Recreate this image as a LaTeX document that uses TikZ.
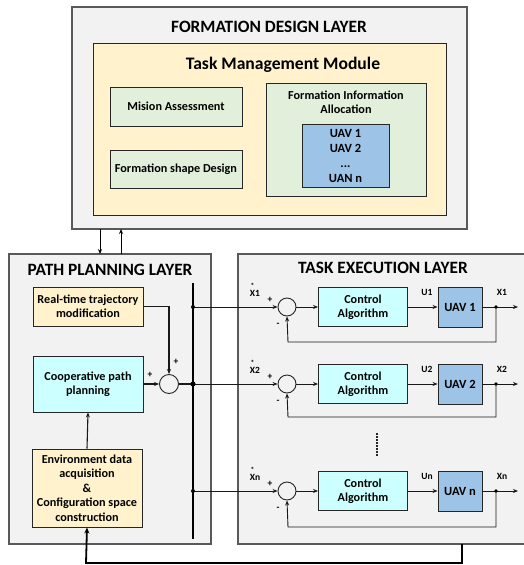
\documentclass[tikz,border=0pt]{standalone}
\usepackage{fontspec}
\setmainfont{Carlito}
\usetikzlibrary{arrows.meta}
\definecolor{layerfill}{HTML}{F2F2F2}
\definecolor{layerline}{HTML}{595959}
\definecolor{boxline}{HTML}{262626}
\definecolor{yellowfill}{HTML}{FFF2CC}
\definecolor{greenfill}{HTML}{E2EFDA}
\definecolor{bluefill}{HTML}{9DC3E6}
\definecolor{cyanfill}{HTML}{CCFFFF}
\begin{document}
\begin{tikzpicture}[x=1pt,y=-1pt,
  layer/.style={draw=layerline, fill=layerfill, line width=1.4pt, inner sep=0pt},
  box/.style={draw=boxline, line width=0.9pt, inner sep=1pt, align=center,
              font=\fontsize{12.2}{14.2}\selectfont\bfseries},
  ltitle/.style={font=\fontsize{17.3}{20}\selectfont\bfseries, inner sep=0pt},
  small/.style={font=\fontsize{9.5}{10}\selectfont\bfseries, inner sep=0pt},
  tiny/.style={font=\fontsize{7.5}{7.5}\selectfont\bfseries, inner sep=0pt},
  sumc/.style={circle, draw=boxline, line width=0.9pt, minimum size=19pt, inner sep=0pt},
  sig/.style={draw=black!90, line width=0.9pt},
  arr/.style={sig, -{Stealth[length=5pt,width=4pt]}},
  thickarr/.style={draw=black, line width=1.8pt, -{Stealth[length=6pt,width=5pt]}},
  dot/.style={fill=black}]
\useasboundingbox (0,0) rectangle (524,565);

% ---------- Formation design layer ----------
\node[layer, minimum width=395pt, minimum height=222pt] (fdl) at (269.5,118) {};
\node[ltitle] (fdlt) at (269,27) {FORMATION DESIGN LAYER};
\node[draw=boxline, line width=0.9pt, fill=yellowfill, minimum width=353pt, minimum height=172pt, inner sep=0pt] (tmm) at (269.5,129) {};
\node[font=\fontsize{17.6}{20}\selectfont\bfseries, inner sep=0pt] (tmmt) at (283,65) {Task Management Module};
\node[box, fill=greenfill, minimum width=132pt, minimum height=39pt] (mis) at (176,106.5) {Mision Assessment};
\node[box, fill=greenfill, minimum width=132pt, minimum height=38pt] (fsd) at (176,169) {Formation shape Design};
\node[box, fill=greenfill, minimum width=160pt, minimum height=113pt] (fia) at (346,139.5) {};
\node[box, fill=none, draw=none] (fiat) at (346,102) {Formation Information\\Allocation};
\node[box, fill=bluefill, minimum width=87pt, minimum height=63pt, font=\fontsize{12.5}{15}\selectfont\bfseries] (uavl) at (345.5,155.5) {UAV 1\\UAV 2\\...\\UAN n};

% ---------- Path planning layer ----------
\node[layer, minimum width=202pt, minimum height=290pt] (ppl) at (110,399) {};
\node[ltitle] (pplt) at (110,270) {PATH PLANNING LAYER};
\node[box, fill=yellowfill, minimum width=110pt, minimum height=39pt] (rt) at (88,306.5) {Real-time trajectory\\modification};
\node[box, fill=cyanfill, minimum width=110pt, minimum height=56pt] (coop) at (88,384) {Cooperative path\\planning};
\node[box, fill=yellowfill, minimum width=110pt, minimum height=78pt, font=\fontsize{12.2}{14.5}\selectfont\bfseries] (env) at (87,488) {Environment data\\acquisition\\\&\\Configuration space\\construction};
\node[sumc] (s0) at (169,384) {};
\node[small] (p1) at (176,362) {+};
\node[small] (p2) at (150,375) {+};

% inter-layer arrows
\coordinate (fd1) at (100,229);
\coordinate (pp1) at (100,254);
\coordinate (fd2) at (121,229);
\coordinate (pp2) at (121,254);
\draw[arr, line width=1pt, draw=black] (fd1) -- (pp1);
\draw[arr, line width=1pt, draw=black] (pp2) -- (fd2);

% ---------- Task execution layer ----------
\fill[layerfill] (238,254) rectangle (530,544);
\draw[layerline, line width=1.4pt] (530,254) -- (238,254) -- (238,544) -- (530,544);
\node[ltitle] (tel) at (383,268) {TASK EXECUTION LAYER};

% bus
\coordinate (btop) at (193,283);
\coordinate (bbot) at (193,539);
\draw[black, line width=1.6pt] (btop) -- (bbot);
\coordinate (b1) at (193,307);
\coordinate (b2) at (193,384);
\coordinate (bn) at (193,491);

% path planning internal connectors
\draw[arr, line width=1.1pt] (rt.east) -| (s0.north);
\draw[arr, line width=1.1pt] (coop.east) -- (s0.west);
\draw[sig, line width=1.3pt] (s0.east) -- (b2);
\draw[arr, line width=1.1pt] (env.north) -- (coop.south);

% rows
\foreach \r/\y/\fb/\lab in {1/307/342/1, 2/384/417/2, n/491/527/n}{
  \node[sumc, minimum size=18pt] (c\r) at (287,\y) {};
  \node[box, fill=cyanfill, minimum width=89pt, minimum height=39pt] (ca\r) at (363,\y) {Control\\Algorithm};
  \node[box, fill=bluefill, minimum width=44pt, minimum height=40pt, font=\fontsize{12.5}{14}\selectfont\bfseries] (u\r) at (460,\y) {UAV \lab};
  \coordinate (o\r) at (496,\y);
  \coordinate (e\r) at (518,\y);
  \coordinate (f\r) at (496,\fb);
  \coordinate (g\r) at (288,\fb);
  \draw[arr] (b\r) -- (c\r.west);
  \draw[arr] (c\r.east) -- (ca\r.west);
  \draw[arr] (ca\r.east) -- (u\r.west);
  \draw[arr] (u\r.east) -- (e\r);
  \draw[arr] (o\r) -- (f\r) -- (g\r) -- (c\r.south);
  \fill[dot] (o\r) circle (1.8pt);
  \fill[dot] (b\r) circle (2pt);
  \node[small] (xs\r) at (255,\y-14) {X\lab};
  \node[tiny] (st\r) at (252.5,\y-21.5) {*};
  \node[small] (pl\r) at (270,\y-7) {+};
  \node[small] (mi\r) at (278,\y+18) {-};
  \node[small] (ul\r) at (427,\y-15) {U\lab};
  \node[small] (xl\r) at (502,\y-15) {X\lab};
}
\fill[dot] (b2) circle (2.6pt);

% vertical dots
\coordinate (d1) at (377,433);
\coordinate (d2) at (377,457);
\draw[boxline, line width=1.4pt, dash pattern=on 1.5pt off 1.5pt] (d1) -- (d2);

% bottom feedback
\coordinate (fbA) at (462,544);
\coordinate (fbB) at (462,563);
\coordinate (fbC) at (86,563);
\draw[thickarr] (fbA) -- (fbB) -- (fbC) -- (env.south);
\end{tikzpicture}
\end{document}
